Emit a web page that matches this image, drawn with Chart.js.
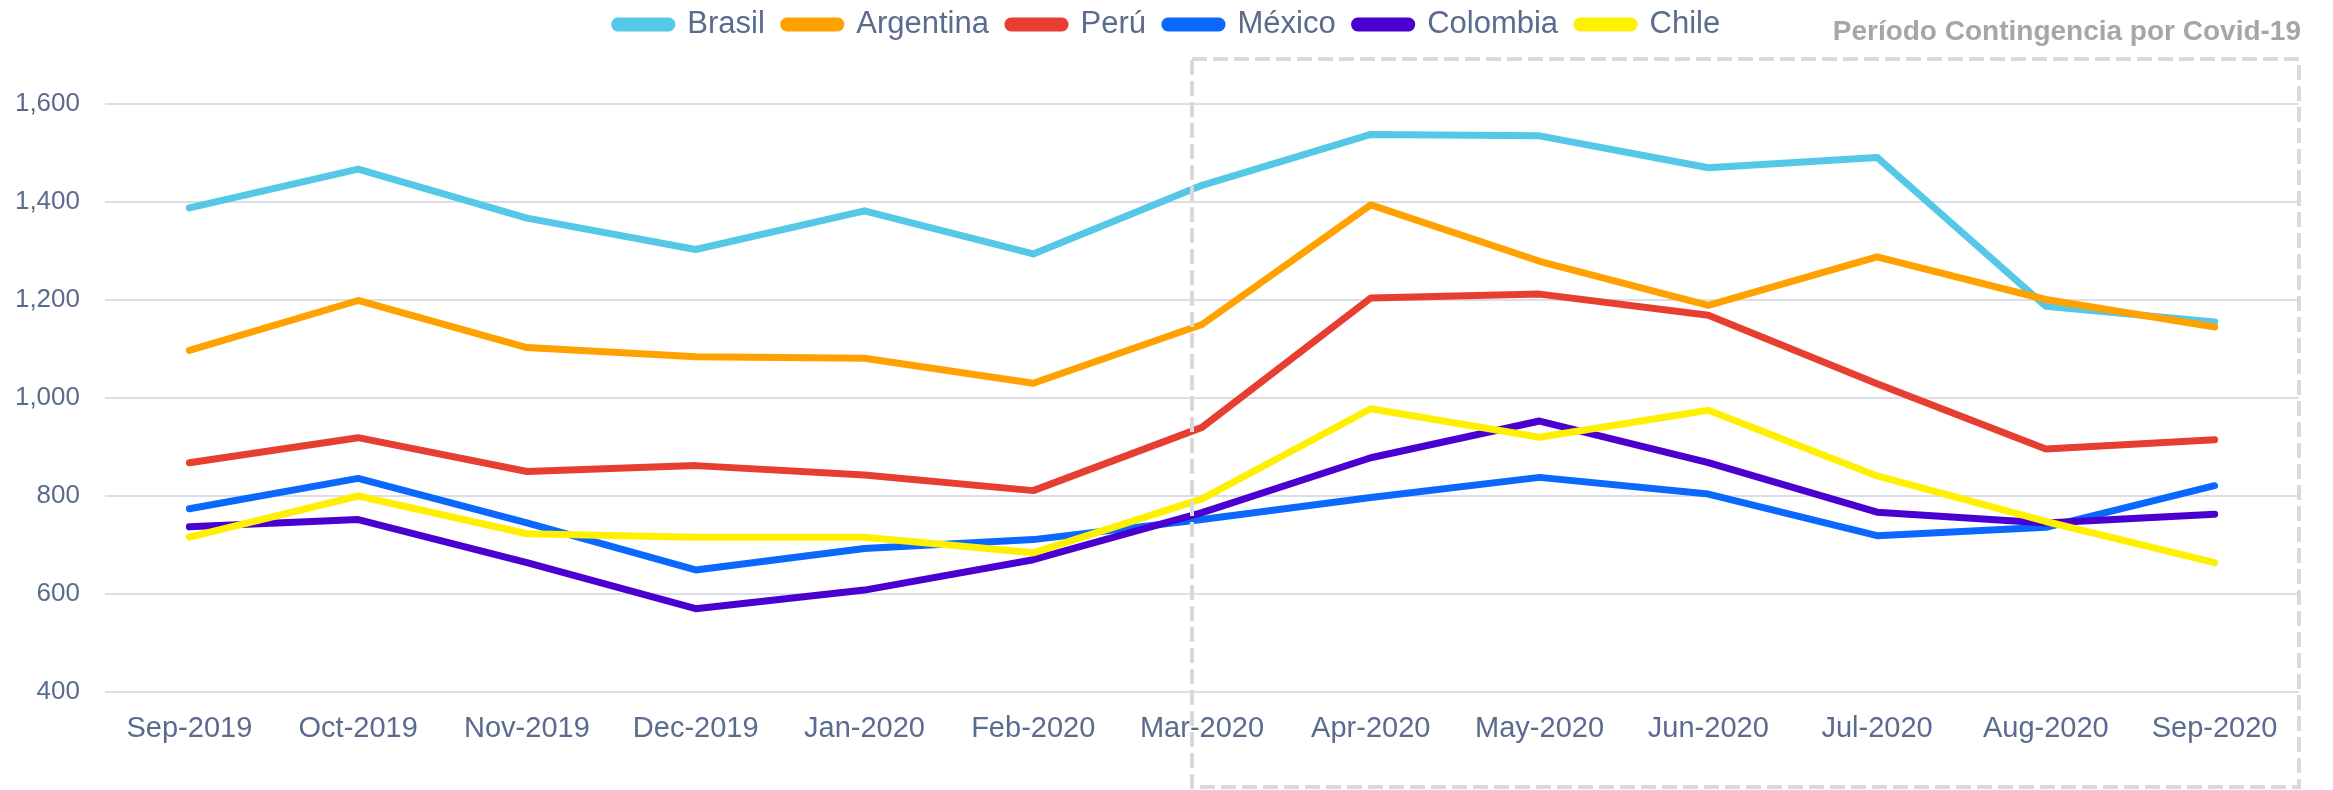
<!DOCTYPE html>
<html>
<head>
<meta charset="utf-8">
<script src="https://cdn.jsdelivr.net/npm/chart.js@4"></script>
<style>
  body { margin: 0; background: #fff; }
  #wrap { width: 2333px; height: 790px; position: relative; }
</style>
</head>
<body>
<div id="wrap"><canvas id="lineChart"></canvas></div>
<script>
// months on the x axis
const months = ["Sep-2019", "Oct-2019", "Nov-2019", "Dec-2019", "Jan-2020", "Feb-2020", "Mar-2020",
  "Apr-2020", "May-2020", "Jun-2020", "Jul-2020", "Aug-2020", "Sep-2020"];

// values per country
const brasil    = [1388, 1467, 1367, 1303, 1382, 1294, 1434, 1538, 1535, 1470, 1491, 1187, 1155];
const argentina = [1097, 1199, 1103, 1084, 1081, 1030, 1150, 1394, 1279, 1189, 1288, 1201, 1145];
const peru      = [868, 919, 850, 862, 843, 811, 940, 1204, 1212, 1169, 1029, 896, 915];
const mexico    = [774, 836, 745, 649, 693, 711, 752, 797, 838, 804, 719, 736, 821];
const colombia  = [737, 752, 664, 570, 608, 670, 766, 878, 953, 868, 767, 745, 763];
const chile     = [716, 800, 723, 716, 716, 684, 794, 978, 920, 975, 841, 748, 664];

const yTicks = [400, 600, 800, 1000, 1200, 1400, 1600];

const textColor = "#5b6b8e";
const font = "'Liberation Sans', Arial, sans-serif";

function line(label, data, color, order) {
  return {
    label: label,
    data: data,
    borderColor: color,
    backgroundColor: color,
    borderWidth: 7,
    borderCapStyle: "round",
    borderJoinStyle: "round",
    pointRadius: 0,
    tension: 0,
    order: order
  };
}

// legend box gets a fixed height so the plot starts where it should,
// and is nudged right so it sits centred like the original
const legendHeight = {
  id: "legendHeight",
  beforeInit(chart) {
    const fit = chart.legend.fit;
    chart.legend.fit = function () {
      fit.call(this);
      this.height = 114;
    };
  },
  afterLayout(chart) {
    chart.legend.left += 18;
    chart.legend.right += 18;
  }
};

// dashed box for the covid period, with its title
const covidBox = {
  id: "covidBox",
  afterDraw(chart) {
    const ctx = chart.ctx;
    const x = chart.scales.x;
    const left = x.getPixelForValue(6) - 10;
    const right = chart.chartArea.right;
    const top = 59;
    const bottom = 787;
    ctx.save();
    ctx.strokeStyle = "#d9d9d9";
    ctx.lineWidth = 4;
    ctx.setLineDash([15, 6]);
    ctx.strokeRect(left, top, right - left, bottom - top);
    ctx.setLineDash([]);
    ctx.fillStyle = "#a6a6a6";
    ctx.font = "bold 28px " + font;
    ctx.textAlign = "right";
    ctx.textBaseline = "alphabetic";
    ctx.fillText("Período Contingencia por Covid-19", right + 2, 40);
    ctx.restore();
  }
};

const ctx = document.getElementById("lineChart").getContext("2d");
new Chart(ctx, {
  type: "line",
  data: {
    labels: months,
    datasets: [
      line("Brasil", brasil, "#55c8e8", 6),
      line("Argentina", argentina, "#ffa200", 5),
      line("Perú", peru, "#e63f32", 4),
      line("México", mexico, "#0a68ff", 3),
      line("Colombia", colombia, "#4a00d0", 2),
      line("Chile", chile, "#fff000", 1)
    ]
  },
  options: {
    responsive: true,
    maintainAspectRatio: false,
    animation: false,
    locale: "en-US",
    layout: { padding: { top: -10, left: 0, right: 34, bottom: 0 } },
    plugins: {
      tooltip: { enabled: false },
      legend: {
        position: "top",
        align: "center",
        labels: {
          color: textColor,
          font: { family: font, size: 31 },
          boxWidth: 57,
          boxHeight: 7,
          useBorderRadius: true,
          borderRadius: 3,
          padding: 19,
          sort: (a, b) => a.datasetIndex - b.datasetIndex
        }
      }
    },
    scales: {
      x: {
        offset: true,
        grid: { display: false },
        border: { display: false },
        ticks: {
          color: textColor,
          font: { family: font, size: 29 },
          maxRotation: 0,
          autoSkip: false,
          padding: 12
        },
        afterFit(scale) { scale.height = 98; }
      },
      y: {
        min: 400,
        max: 1600,
        border: { display: false },
        grid: { color: "#dcdde6", lineWidth: 2, drawTicks: false },
        afterBuildTicks(scale) { scale.ticks = yTicks.map(v => ({ value: v })); },
        ticks: {
          color: textColor,
          font: { family: font, size: 26 },
          padding: 25
        },
        afterFit(scale) { scale.width = 105; }
      }
    }
  },
  plugins: [legendHeight, covidBox]
});
</script>
</body>
</html>
